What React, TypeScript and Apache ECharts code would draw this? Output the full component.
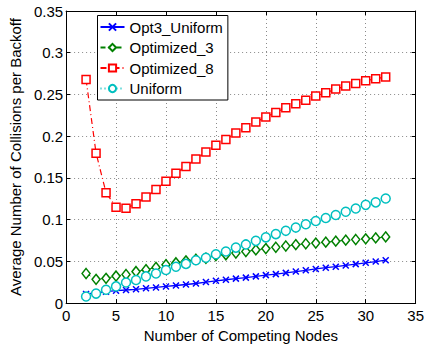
import React, { useEffect, useRef } from "react";
import * as echarts from "echarts";

const nodes = [2, 3, 4, 5, 6, 7, 8, 9, 10, 11, 12, 13, 14, 15, 16, 17, 18, 19, 20, 21, 22, 23, 24, 25, 26, 27, 28, 29, 30, 31, 32];
const opt3Uniform = [0.011, 0.0122, 0.0137, 0.0149, 0.0157, 0.0165, 0.0177, 0.0188, 0.02, 0.0211, 0.0223, 0.0235, 0.0252, 0.0267, 0.028, 0.0293, 0.0305, 0.032, 0.0335, 0.0347, 0.0362, 0.0378, 0.0393, 0.0409, 0.0424, 0.0436, 0.0451, 0.0467, 0.0483, 0.0498, 0.0514];
const optimized3 = [0.0355, 0.0285, 0.0297, 0.0324, 0.0343, 0.0378, 0.04, 0.0428, 0.046, 0.0483, 0.0506, 0.0525, 0.0538, 0.057, 0.058, 0.06, 0.0618, 0.0637, 0.0653, 0.0669, 0.0684, 0.07, 0.0711, 0.0719, 0.073, 0.0742, 0.0754, 0.0762, 0.077, 0.0781, 0.0793];
const optimized8 = [0.268, 0.1797, 0.1323, 0.1149, 0.1138, 0.119, 0.127, 0.136, 0.146, 0.1556, 0.1637, 0.1727, 0.181, 0.189, 0.196, 0.2037, 0.21, 0.2169, 0.223, 0.2285, 0.234, 0.239, 0.2432, 0.2483, 0.252, 0.2564, 0.26, 0.263, 0.2665, 0.2688, 0.271];
const uniform = [0.0079, 0.0114, 0.016, 0.02, 0.0246, 0.0277, 0.032, 0.0355, 0.0397, 0.0436, 0.047, 0.0514, 0.0544, 0.0585, 0.0618, 0.0665, 0.0703, 0.0746, 0.0788, 0.0827, 0.0866, 0.0905, 0.0944, 0.0983, 0.102, 0.1056, 0.1095, 0.1134, 0.1177, 0.1207, 0.1253];
const seriesNames = ["Opt3_Uniform", "Optimized_3", "Optimized_8", "Uniform"];
const xTicks = { min: 0, max: 35, interval: 5 };
const yTicks = { min: 0, max: 0.35, interval: 0.05 };

const FONT = 'Arial, "Liberation Sans", Helvetica, sans-serif';

export default function App() {
  const ref = useRef<HTMLDivElement>(null);
  useEffect(() => {
    if (!ref.current) return;
    const chart = echarts.init(ref.current, null, { renderer: "svg" });
    const pts = (vals: number[]) => nodes.map((x, i) => [x, vals[i]]);
    const gridLine = { show: true, lineStyle: { color: "#8a8a8a", type: [1, 3] as any, width: 1 } };
    const axisLine = { show: true, onZero: false, lineStyle: { color: "#000", width: 1 } };
    const tick = { show: true, inside: true, length: 4, lineStyle: { color: "#000" } };
    const label = { color: "#000", fontSize: 15, fontFamily: FONT };
    chart.setOption({
      animation: false,
      backgroundColor: "#fff",
      grid: { left: 60, right: 9, top: 11, bottom: 36.5, containLabel: false },
      legend: {
        orient: "vertical",
        left: 97.5,
        top: 15.5,
        data: seriesNames,
        backgroundColor: "#fff",
        borderColor: "#000",
        borderWidth: 1,
        borderRadius: 0,
        padding: [3, 5, 3, 2],
        itemWidth: 24,
        itemHeight: 9,
        itemGap: 3.5,
        textStyle: { color: "#000", fontSize: 15, fontFamily: FONT, lineHeight: 17 },
      },
      xAxis: [
        {
          type: "value",
          ...xTicks,
          name: "Number of Competing Nodes",
          nameLocation: "middle",
          nameGap: 19,
          nameTextStyle: { color: "#000", fontSize: 15, fontFamily: FONT },
          axisLine,
          axisTick: tick,
          axisLabel: { ...label, margin: 5 },
          splitLine: gridLine,
        },
        {
          type: "value",
          ...xTicks,
          position: "top",
          axisLine,
          axisTick: tick,
          axisLabel: { show: false },
          splitLine: { show: false },
        },
      ],
      yAxis: [
        {
          type: "value",
          ...yTicks,
          name: "Average Number of Collisions per Backoff",
          nameLocation: "middle",
          nameGap: 38,
          nameTextStyle: { color: "#000", fontSize: 15, fontFamily: FONT },
          axisLine,
          axisTick: tick,
          axisLabel: { ...label, margin: 3 },
          splitLine: gridLine,
        },
        {
          type: "value",
          ...yTicks,
          position: "right",
          axisLine,
          axisTick: tick,
          axisLabel: { show: false },
          splitLine: { show: false },
        },
      ],
      series: [
        {
          name: seriesNames[0],
          type: "line",
          data: pts(opt3Uniform),
          symbol: "path://M0,0L10,10M10,0L0,10",
          symbolSize: 6,
          lineStyle: { color: "#0000ff", width: 1.3, type: "solid" },
          itemStyle: { color: "rgba(0,0,0,0)", borderColor: "#0000ff", borderWidth: 1.5 },
          z: 4,
        },
        {
          name: seriesNames[1],
          type: "line",
          data: pts(optimized3),
          symbol: "diamond",
          symbolSize: [8, 10],
          lineStyle: { color: "#008000", width: 1, type: [5, 3] as any },
          itemStyle: { color: "#fff", borderColor: "#008000", borderWidth: 1.5 },
          z: 3,
        },
        {
          name: seriesNames[2],
          type: "line",
          data: pts(optimized8),
          symbol: "rect",
          symbolSize: 8,
          lineStyle: { color: "#ff0000", width: 1.2, type: [6, 3, 1, 3] as any },
          itemStyle: { color: "#fff", borderColor: "#ff0000", borderWidth: 1.5 },
          z: 2,
        },
        {
          name: seriesNames[3],
          type: "line",
          data: pts(uniform),
          symbol: "circle",
          symbolSize: 9,
          lineStyle: { color: "#00bfbf", width: 1, type: [1, 3] as any },
          itemStyle: { color: "#fff", borderColor: "#00bfbf", borderWidth: 1.5 },
          z: 5,
        },
      ],
    });
    return () => chart.dispose();
  }, []);
  return <div ref={ref} style={{ position: "fixed", left: 0, top: 0, width: 427, height: 348 }} />;
}
